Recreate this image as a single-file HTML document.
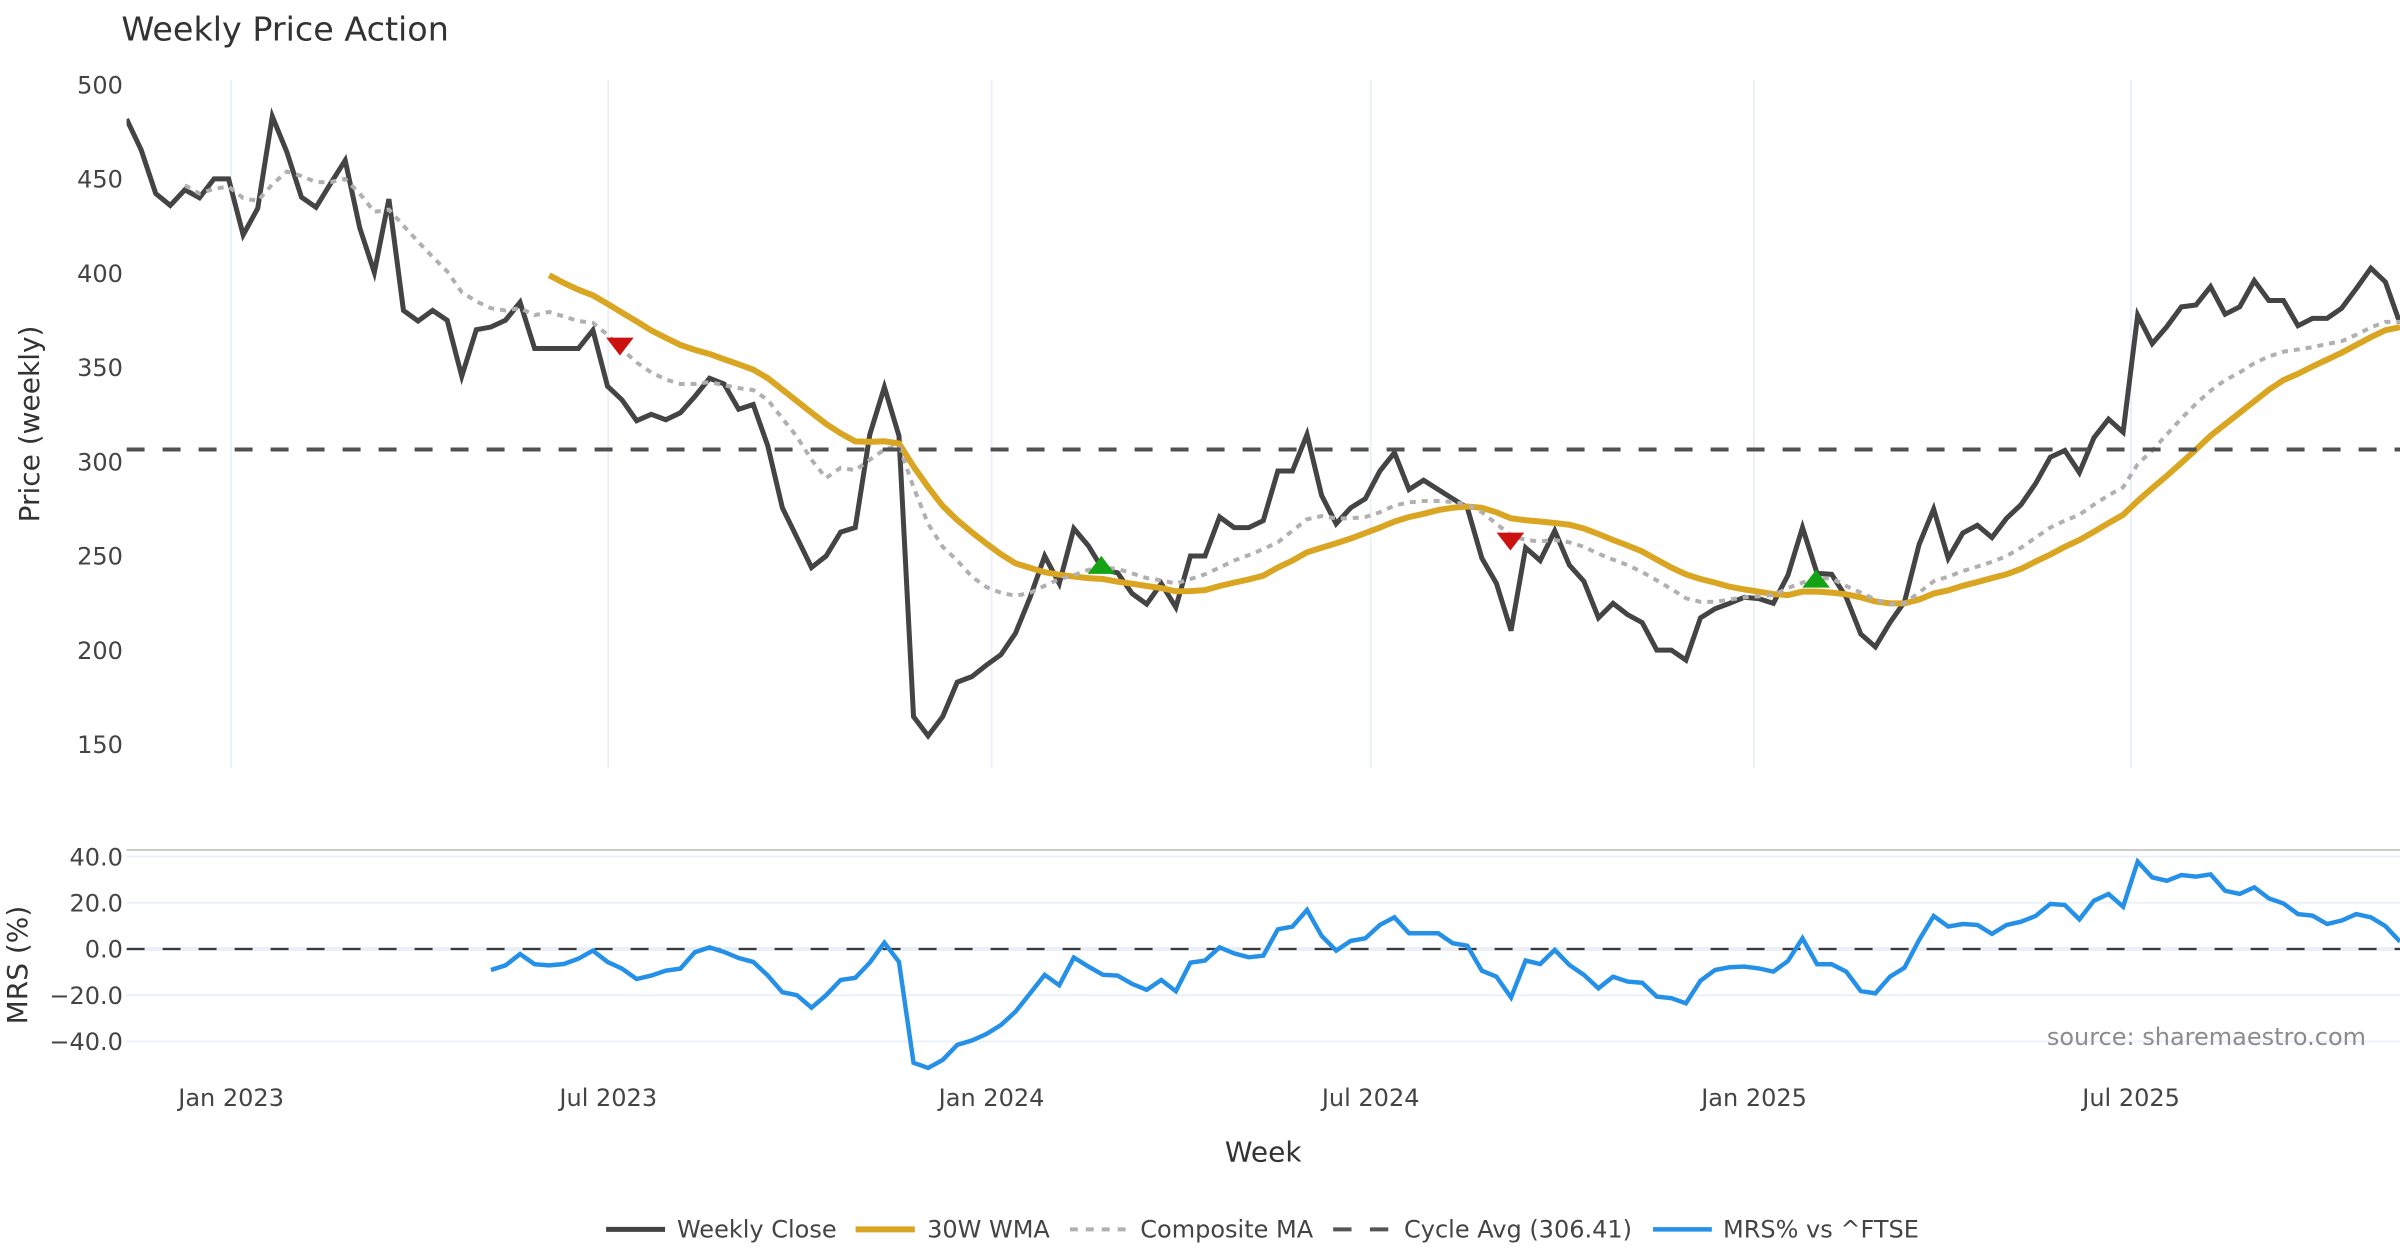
<!DOCTYPE html>
<html>
<head>
<meta charset="utf-8">
<style>
html,body{margin:0;padding:0;background:#fff;width:2400px;height:1260px;overflow:hidden}
svg{display:block}
text{font-family:"DejaVu Sans","Liberation Sans",sans-serif}
</style>
</head>
<body>
<svg id="c" width="2400" height="1260" viewBox="0 0 1568 823.2" xmlns="http://www.w3.org/2000/svg">
<defs>
<clipPath id="cm"><rect x="82.7" y="52.3" width="1485.3" height="449.7"/></clipPath>
<clipPath id="cr"><rect x="82.7" y="540" width="1485.3" height="165"/></clipPath>
</defs>
<rect width="1568" height="823.2" fill="#fff"/>

<!-- title -->
<text x="79.3" y="26.3" font-size="21.8" fill="#333">Weekly Price Action</text>

<!-- main vertical grid -->
<g stroke="#ebf0f8" stroke-width="1.3">
<line x1="151" y1="52.3" x2="151" y2="502"/>
<line x1="397.4" y1="52.3" x2="397.4" y2="502"/>
<line x1="647.8" y1="52.3" x2="647.8" y2="502"/>
<line x1="895.5" y1="52.3" x2="895.5" y2="502"/>
<line x1="1146" y1="52.3" x2="1146" y2="502"/>
<line x1="1392.3" y1="52.3" x2="1392.3" y2="502"/>
</g>

<!-- MRS grid -->
<g stroke="#ebf0f8" stroke-width="1.2">
<line x1="82.7" y1="559.6" x2="1568" y2="559.6"/>
<line x1="82.7" y1="589.8" x2="1568" y2="589.8"/>
<line x1="82.7" y1="650.2" x2="1568" y2="650.2"/>
<line x1="82.7" y1="680.4" x2="1568" y2="680.4"/>
</g>
<line x1="82.7" y1="620" x2="1568" y2="620" stroke="#ebf0f8" stroke-width="2.6"/>
<line x1="82.7" y1="555.3" x2="1568" y2="555.3" stroke="#cdcdcd" stroke-width="1.3"/>

<!-- main y ticks -->
<g font-size="15.68" fill="#444" text-anchor="end">
<text x="80.3" y="61">500</text>
<text x="80.3" y="122.6">450</text>
<text x="80.3" y="184.1">400</text>
<text x="80.3" y="245.7">350</text>
<text x="80.3" y="307.3">300</text>
<text x="80.3" y="368.8">250</text>
<text x="80.3" y="430.4">200</text>
<text x="80.3" y="492">150</text>
</g>

<!-- MRS y ticks -->
<g font-size="15.68" fill="#444" text-anchor="end">
<text x="80.3" y="565.3">40.0</text>
<text x="80.3" y="595.5">20.0</text>
<text x="80.3" y="625.7">0.0</text>
<text x="80.3" y="655.9">−20.0</text>
<text x="80.3" y="686.1">−40.0</text>
</g>

<!-- x ticks -->
<g font-size="15.68" fill="#444" text-anchor="middle">
<text x="151" y="722.5">Jan 2023</text>
<text x="397.4" y="722.5">Jul 2023</text>
<text x="647.8" y="722.5">Jan 2024</text>
<text x="895.5" y="722.5">Jul 2024</text>
<text x="1146" y="722.5">Jan 2025</text>
<text x="1392.3" y="722.5">Jul 2025</text>
</g>

<!-- axis titles -->
<text x="825.3" y="758.7" font-size="18.29" fill="#333" text-anchor="middle">Week</text>
<text transform="translate(25.5,277) rotate(-90)" font-size="18.29" fill="#333" text-anchor="middle">Price (weekly)</text>
<text transform="translate(17.5,630.5) rotate(-90)" font-size="18.29" fill="#333" text-anchor="middle">MRS (%)</text>

<!-- main series -->
<g clip-path="url(#cm)" fill="none">
<polyline id="pClose" stroke="#444444" stroke-width="3.27"/>
<polyline id="pWma" stroke="#DAA520" stroke-width="3.92"/>
<polyline id="pComp" stroke="#b0b0b0" stroke-width="2.61" stroke-dasharray="3.9 3.9"/>
<line x1="82.7" y1="293.7" x2="1568" y2="293.7" stroke="#505050" stroke-width="2.6" stroke-dasharray="11.76 11.76"/>
<path d="M396,220.6 H414 L405,232.3 Z" fill="#cc1111"/>
<path d="M977.8,348 H995.8 L986.8,359.7 Z" fill="#cc1111"/>
<path d="M710.5,374.9 H728.5 L719.5,363.2 Z" fill="#14a314"/>
<path d="M1177.5,383.9 H1195.5 L1186.5,372.2 Z" fill="#14a314"/>
</g>

<!-- MRS series -->
<g clip-path="url(#cr)" fill="none">
<line x1="82.7" y1="620" x2="1568" y2="620" stroke="#3a3a3a" stroke-width="1.5" stroke-dasharray="11.76 11.76"/>
<polyline id="pMrs" stroke="#2490E8" stroke-width="2.9"/>
</g>

<!-- source -->
<text x="1545.8" y="682.8" font-size="15.68" fill="#8c8c8c" text-anchor="end">source: sharemaestro.com</text>

<!-- legend -->
<g fill="none">
<line x1="396" y1="803.2" x2="434.5" y2="803.2" stroke="#444444" stroke-width="3.27"/>
<line x1="559" y1="803.2" x2="597.7" y2="803.2" stroke="#DAA520" stroke-width="3.92"/>
<line x1="699" y1="803.2" x2="736" y2="803.2" stroke="#b0b0b0" stroke-width="2.61" stroke-dasharray="5.2 5.2"/>
<line x1="871" y1="803.2" x2="909" y2="803.2" stroke="#555" stroke-width="2.6" stroke-dasharray="12 12"/>
<line x1="1080" y1="803.2" x2="1118.4" y2="803.2" stroke="#2490E8" stroke-width="2.9"/>
</g>
<g font-size="15.68" fill="#444">
<text x="442.3" y="808.5">Weekly Close</text>
<text x="605.7" y="808.5">30W WMA</text>
<text x="745" y="808.5">Composite MA</text>
<text x="917.3" y="808.5">Cycle Avg (306.41)</text>
<text x="1125.7" y="808.5">MRS% vs ^FTSE</text>
</g>
</svg>

<script>
(function(){
var close=[481.7,465.4,442.2,435.9,444.2,440.0,450.0,450.0,420.3,434.4,483.1,464.2,440.3,434.9,447.6,459.8,424.0,400.4,439.3,380.2,374.6,380.2,375.0,345.3,370.0,371.4,375.0,384.5,360.0,360.0,360.0,360.0,369.7,340.0,332.7,321.7,325.1,322.2,325.9,334.6,344.2,341.2,327.8,330.3,308.3,275.5,259.7,243.8,249.9,262.6,265.0,314.4,339.5,313.7,164.7,154.5,164.7,183.0,185.9,192.0,197.6,209.0,228.0,249.9,235.3,264.5,255.3,242.6,241.0,230.0,224.4,235.3,222.7,249.9,249.9,270.6,265.0,265.0,268.7,295.0,295.0,314.4,282.1,267.0,275.5,280.3,295.0,304.7,285.2,290.1,285.2,280.3,275.5,248.7,235.3,210.3,254.3,247.5,263.3,245.1,236.5,217.1,224.8,218.8,214.6,200,200,194.7,217.1,221.9,224.8,228,227.3,224.8,239.7,265,240.7,240.2,228,208.5,201.7,214.6,225.6,256,274.8,248.7,262.1,266.2,259.7,269.9,277.2,288.4,302.3,305.9,294.2,312.7,322.5,315.6,377.7,362.6,371.6,382.1,383.1,392.8,378.2,382.1,396,385.5,385.5,372.1,376,376,381.4,391.8,402.6,395.3,373.3];
var wma=[398.9,394.8,391.2,388.2,383.7,379.0,374.4,369.6,365.7,361.9,359.3,357.1,354.3,351.6,348.8,344.3,338.2,332.1,326.0,320.0,315.0,310.7,310.5,310.8,309.6,297.4,286.5,276.5,269.0,262.5,256.5,250.8,246.0,243.6,241.3,240.0,239.0,238.2,237.7,236.3,235.2,234.0,232.9,231.2,231.3,231.8,234.0,235.8,237.5,239.5,243.8,247.5,251.9,254.3,256.7,259.2,262.1,265.0,268.2,270.6,272.3,274.3,275.5,276.2,275.5,273.1,269.9,268.9,268.2,267.4,266.5,264.5,261.6,258.4,255.5,252.3,248.0,243.8,240.2,237.7,235.8,233.6,232.2,231.0,229.7,229.2,231.0,231.0,230.5,229.6,228.0,225.8,224.8,224.8,226.8,230.0,231.7,234.1,236.1,238.2,240.2,243.1,247.0,250.7,254.8,258.4,262.8,267.4,271.8,279.1,285.9,292.5,299.3,306.4,313.7,319.8,325.9,332.0,338.1,343.2,346.6,350.5,354.1,357.8,361.9,366.0,369.7,371.3];
var comp=[446.6,442.2,444.7,445.9,439.8,438.3,447.1,453.9,451.5,448.3,448.3,450.0,442.2,432.5,433.7,425.2,416.7,408.6,400.9,389.9,385.0,381.4,380.2,381.4,377.7,379.4,377.0,374.6,373.6,367.3,359.5,352.6,347.3,343.6,341.2,341.2,342.2,340.5,339.0,338.0,332.7,322.9,313.2,301.0,291.3,296.7,295.4,301.0,306.4,308.4,286.4,267.0,254.8,247.5,239.0,233.4,230.4,228.8,230.4,234.1,237.7,239.7,242.6,243.8,243.1,240.7,238.2,237.0,235.3,237.7,240.2,243.8,247.5,250.4,253.6,257.2,263.3,269.4,271.1,269.9,269.9,270.6,273.1,276.7,278.4,279.1,279.1,278.6,277.2,273.1,267.0,260.9,258.4,257.7,258.4,257.2,254.8,251.1,248.0,245.1,241.4,237.0,232.4,227.5,225.6,225.6,226.8,228.0,228.5,229.2,232.9,235.8,238.2,238.0,234.0,230.5,226.8,224.4,224.8,230.5,236.5,239.0,241.9,244.3,246.8,249.9,254.3,259.7,265.0,268.7,271.8,277.2,282.1,286.4,298.6,305.9,314.4,322.9,330.7,337.6,343.2,347.3,352.2,355.8,358.3,359.5,360.7,362.4,363.9,367.3,371.2,374.1,374.1];
var mrs=[-9.1,-7.1,-2.2,-6.6,-7.1,-6.5,-4.2,-0.7,-5.6,-8.5,-13.0,-11.5,-9.4,-8.5,-1.4,0.7,-1.3,-3.9,-5.6,-11.5,-18.7,-20.0,-25.4,-20.0,-13.4,-12.5,-5.9,2.7,-5.6,-49.2,-51.5,-48.0,-41.5,-39.6,-36.8,-32.9,-27.1,-19.2,-11.2,-15.7,-3.7,-7.6,-11.2,-11.5,-15.1,-17.7,-13.4,-18.3,-5.9,-5.0,0.7,-1.9,-3.6,-2.9,8.5,9.7,16.9,5.7,-0.7,3.5,4.6,10.4,13.7,6.8,6.8,6.8,2.5,1.4,-9.4,-12.0,-21.0,-5.0,-6.5,-0.4,-6.9,-11.2,-17.0,-12.0,-14.1,-14.6,-20.6,-21.3,-23.5,-13.7,-9.1,-7.9,-7.6,-8.4,-9.8,-5.2,4.6,-6.6,-6.6,-9.8,-18.2,-19.2,-12.0,-8.1,3.9,14.3,9.7,10.8,10.4,6.5,10.4,11.8,14.3,19.5,19.0,12.8,20.9,23.8,18.3,37.8,31.0,29.5,32.0,31.3,32.3,25.2,23.8,26.7,21.9,19.7,15.1,14.4,10.8,12.3,15.1,13.7,9.9,3.2];
var x0=82.7, step=(1568-82.7)/(close.length-1);
function X(i){return x0+i*step;}
function YM(v){return 55.3+(500-v)*1.2314;}
function YR(v){return 620.0-1.51*v;}
function pts(arr,start,yf){var s=[];for(var k=0;k<arr.length;k++){s.push(X(start+k).toFixed(2)+','+yf(arr[k]).toFixed(2));}return s.join(' ');}
document.getElementById('pClose').setAttribute('points',pts(close,0,YM));
document.getElementById('pWma').setAttribute('points',pts(wma,29,YM));
document.getElementById('pComp').setAttribute('points',pts(comp,4,YM));
document.getElementById('pMrs').setAttribute('points',pts(mrs,25,YR));
})();
</script>
</body>
</html>
